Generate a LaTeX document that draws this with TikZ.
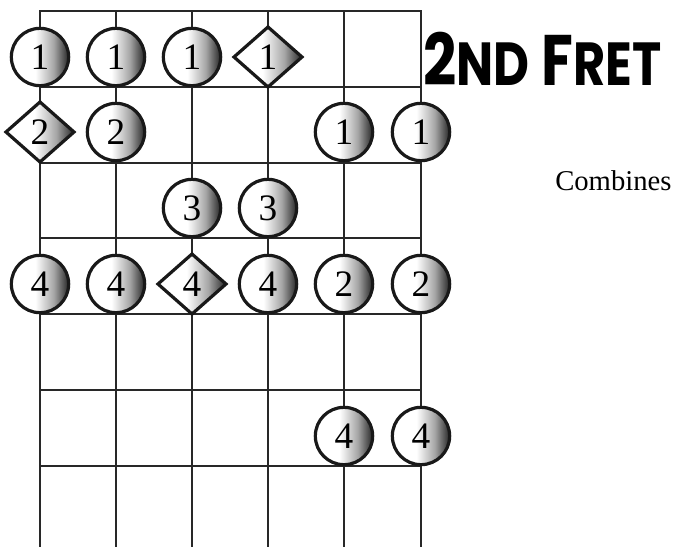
\documentclass[tikz,border=0pt]{standalone}
\usepackage{fontspec}
\usepackage{graphicx}
\setmainfont{Liberation Serif}
\newfontfamily\titlefont{Poppins}
\usetikzlibrary{shapes.geometric}
\definecolor{wirecol}{RGB}{40,40,40}
% white ball, dark towards the right rim
\pgfdeclarehorizontalshading{ball}{100bp}{color(0bp)=(white); color(25bp)=(white);
  color(46bp)=(white); color(62bp)=(black!35); color(75bp)=(black!85); color(100bp)=(black!85)}

\begin{document}
\begin{tikzpicture}[x=0.75pt,y=-0.75pt,
  wire/.style={line width=2.2pt,wirecol},
  dot/.style={circle,draw=black!90,line width=2.4pt,minimum size=43pt,inner sep=0pt,
    shading=ball,font=\fontsize{28}{28}\selectfont},
  root/.style={dot,diamond,minimum width=52pt,minimum height=46pt}]
\useasboundingbox (0,0) rectangle (676,547);
% ---- fretboard ----
\foreach \x in {40,116,192,268,344,421}
  \draw[wire] (\x,11) -- (\x,560);
\foreach \y in {11,87,163,238,314,390,466}
  \draw[wire,line cap=rect] (40,\y) -- (421,\y);
% ---- fret 1 ----
\node[dot]  (r1c1) at (40,57)  {1};
\node[dot]  (r1c2) at (116,57) {1};
\node[dot]  (r1c3) at (192,57) {1};
\node[root] (r1c4) at (268,57) {1};
% ---- fret 2 ----
\node[root] (r2c1) at (40,132)  {2};
\node[dot]  (r2c2) at (116,132) {2};
\node[dot]  (r2c5) at (344,132) {1};
\node[dot]  (r2c6) at (421,132) {1};
% ---- fret 3 ----
\node[dot] (r3c3) at (192,208) {3};
\node[dot] (r3c4) at (268,208) {3};
% ---- fret 4 ----
\node[dot]  (r4c1) at (40,284)  {4};
\node[dot]  (r4c2) at (116,284) {4};
\node[root] (r4c3) at (192,284) {4};
\node[dot]  (r4c4) at (268,284) {4};
\node[dot]  (r4c5) at (344,284) {2};
\node[dot]  (r4c6) at (421,284) {2};
% ---- fret 6 ----
\node[dot] (r6c5) at (344,436) {4};
\node[dot] (r6c6) at (421,436) {4};
% ---- texts ----
\node[anchor=base west,inner sep=0pt] (title) at (423,85)
  {\resizebox{179pt}{40pt}{\titlefont\bfseries 2\scalebox{0.85}{ND} F\scalebox{0.85}{RET}}};
\node[anchor=base west,inner sep=0pt] (note) at (555,190)
  {\fontsize{21.5}{21.5}\selectfont Combines};
\end{tikzpicture}
\end{document}
